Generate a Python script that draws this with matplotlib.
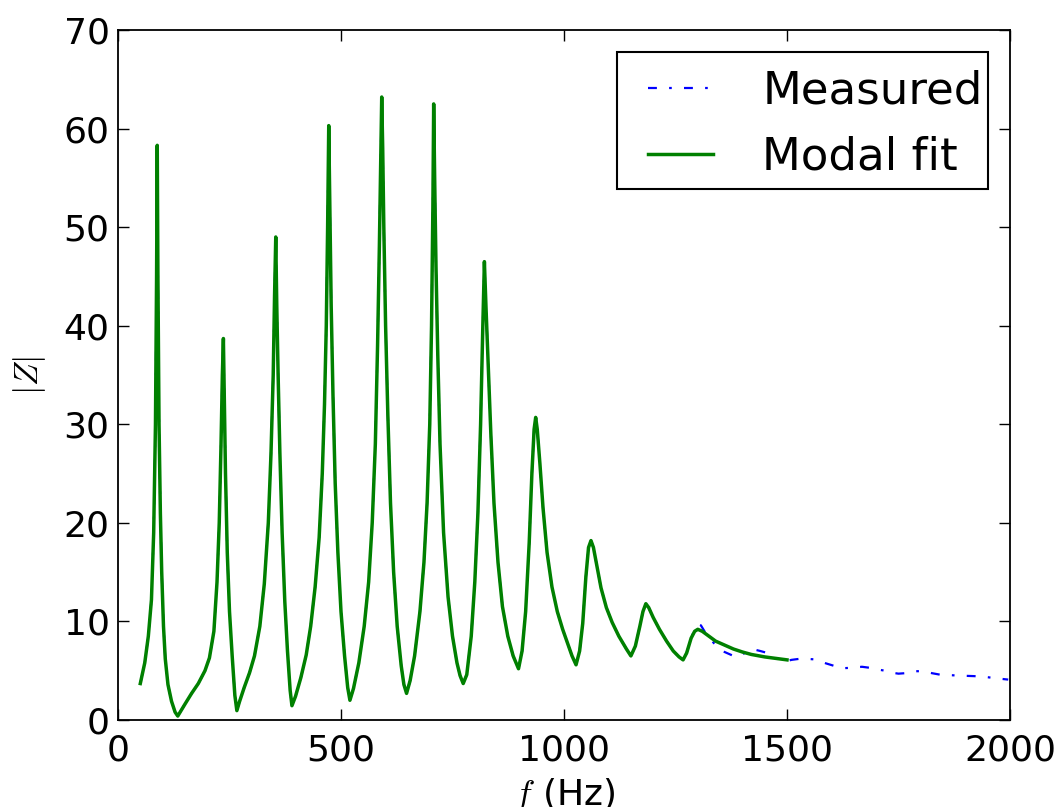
import matplotlib
matplotlib.use("Agg")
import matplotlib.pyplot as plt
from matplotlib.patches import Rectangle

plt.rcParams["mathtext.fontset"] = "cm"

## Modal fit: frequency (Hz) and |Z|
fit_f = [50, 60, 68, 75, 80, 84, 86.5, 88, 89.5, 92, 95, 98, 102, 106, 112, 120, 128, 134,
         142, 150, 165, 180, 195, 205, 215, 222, 227, 231, 234, 236.3, 238.5, 241, 245, 250,
         256, 262, 266.5, 272, 283, 295, 306, 318, 328, 337, 343, 348, 351, 353.7, 356, 359,
         363, 368, 374, 380, 386, 390, 398, 410, 422, 432, 442, 451, 458, 463, 467, 470,
         472.5, 475, 478, 482, 487, 493, 500, 508, 515, 520, 528, 540, 552, 562, 570, 577,
         582, 586, 589, 591.3, 593.5, 596, 600, 605, 611, 618, 626, 635, 641, 647, 655, 665,
         677, 686, 693, 699, 703, 706, 707.8, 710, 713, 717, 722, 730, 740, 750, 760, 767,
         774, 782, 792, 800, 807, 813, 818, 821.5, 825, 830, 836, 843, 852, 862, 874, 886,
         898, 906, 914, 922, 928, 933, 936.5, 940, 946, 953, 962, 973, 985, 997, 1008, 1018,
         1027, 1035, 1042, 1049, 1055, 1060.5, 1066, 1073, 1083, 1095, 1108, 1123, 1140,
         1150, 1160, 1170, 1177, 1183.5, 1190, 1200, 1214, 1230, 1245, 1258, 1267, 1275,
         1285, 1293, 1300, 1310, 1325, 1340, 1360, 1380, 1400, 1420, 1450, 1475, 1500]
fit_z = [3.7, 5.8, 8.5, 12.2, 19, 30, 45, 58.3, 45, 30, 21, 15, 9.5, 6.2, 3.6, 1.9, 0.8, 0.4,
         1.0, 1.6, 2.7, 3.7, 5.0, 6.3, 9.0, 14, 20, 28, 35, 38.7, 32, 25, 17, 11,
         6.5, 2.5, 0.95, 1.8, 3.3, 4.8, 6.5, 9.5, 13.8, 20, 27, 35, 43, 49.0, 42, 35,
         27, 19, 12, 7, 3, 1.45, 2.4, 4.3, 6.6, 9.5, 13.5, 18.5, 25, 32, 40, 50,
         60.3, 52, 42, 33, 24, 17, 11, 6.5, 3.3, 2.0, 3.2, 5.8, 9.5, 14, 20, 28,
         38, 48, 57, 63.2, 58, 50, 40, 31, 22, 15, 9.5, 5.5, 3.6, 2.7, 4.0, 6.5,
         11, 16, 22, 30, 40, 52, 62.5, 55, 46, 37, 28, 19, 12.5, 8.5, 5.8, 4.5,
         3.7, 4.6, 8.5, 14, 21, 30, 40, 46.5, 42, 36, 29, 22, 16, 11.5, 8.5, 6.5,
         5.2, 7, 11, 18, 25, 29.5, 30.7, 29.5, 26, 21.5, 17, 13.5, 11, 9.2, 7.8, 6.5,
         5.6, 7.0, 9.8, 14.5, 17.5, 18.2, 17.5, 15.8, 13.4, 11.4, 9.9, 8.5, 7.2,
         6.5, 7.5, 9.5, 11.0, 11.8, 11.4, 10.4, 9.2, 8.0, 7.0, 6.4, 6.1, 6.8,
         8.3, 9.0, 9.2, 9.0, 8.5, 8.0, 7.6, 7.2, 6.9, 6.65, 6.4, 6.25, 6.1]

## Measured: same as the fit up to ~1290 Hz, then its own tail
tail_f = [1295, 1302, 1307, 1315, 1325, 1336, 1348, 1360, 1370, 1380, 1391, 1405, 1422,
          1440, 1456, 1475, 1493, 1510, 1527, 1545, 1562, 1575, 1587, 1605, 1624, 1645,
          1668, 1685, 1700, 1720, 1735, 1750, 1765, 1783, 1806, 1825, 1843, 1865, 1888,
          1920, 1948, 1975, 1996]
tail_z = [9.4, 9.7, 9.6, 9.0, 8.45, 7.8, 7.3, 6.9, 6.7, 6.5, 6.4, 6.8, 7.2,
          7.0, 6.8, 6.3, 5.9, 6.1, 6.2, 6.2, 6.15, 5.95, 5.75, 5.5, 5.25, 5.3,
          5.4, 5.3, 5.15, 5.0, 4.8, 4.7, 4.75, 4.95, 4.95, 4.75, 4.6, 4.55, 4.5,
          4.45, 4.35, 4.2, 4.1]

n = sum(1 for f in fit_f if f < 1290)
meas_f = fit_f[:n] + tail_f
meas_z = fit_z[:n] + tail_z

fig = plt.figure(figsize=(10.63, 8.07), dpi=100)
ax = fig.add_axes([118 / 1063, 1 - 720 / 807, 892 / 1063, 690 / 807])

ax.plot(meas_f, meas_z, color="blue", lw=1.6, dashes=(4, 5.5, 1.2, 5.5),
        label="Measured")
ax.plot(fit_f, fit_z, "-", color="green", lw=2.5, label="Modal fit")

ax.set_xlim(0, 2000)
ax.set_ylim(0, 70)
ax.set_xticks([0, 500, 1000, 1500, 2000])
ax.set_yticks(range(0, 71, 10))
ax.tick_params(direction="in", length=8, width=1, top=True, right=True,
               labelsize=26)
ax.tick_params(axis="x", pad=10)
ax.tick_params(axis="y", pad=6)
for s in ax.spines.values():
    s.set_linewidth(1.3)

ax.set_xlabel("$f$ (Hz)", fontsize=26, labelpad=6)
ax.set_ylabel("$|Z|$", fontsize=24, labelpad=11)

# legend box drawn separately (old-style padding), entries on top of it
ax.add_patch(Rectangle((0.5594, 0.7696), 0.4159, 0.1985, transform=ax.transAxes,
                       facecolor="white", edgecolor="black", lw=1.5, zorder=4.5))
leg = ax.legend(loc="upper left", bbox_to_anchor=(0.5942, 0.943), fontsize=32.5,
                frameon=False, handlelength=1.44, handletextpad=1.09,
                borderpad=0, labelspacing=0.52, borderaxespad=0)

fig.savefig("out.png", dpi=100)
